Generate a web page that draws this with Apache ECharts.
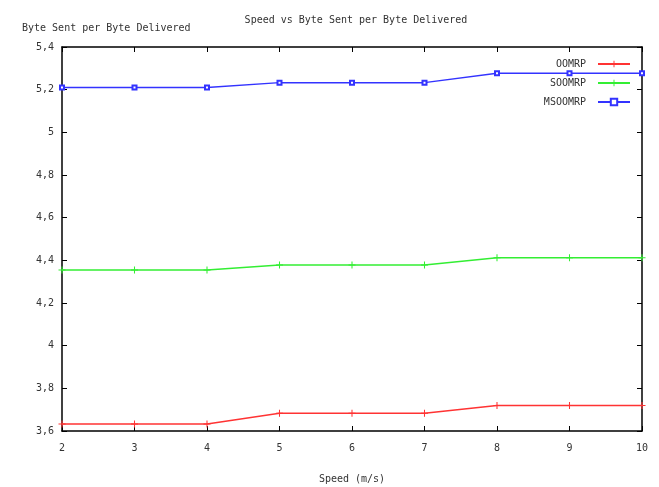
<!DOCTYPE html>
<html><head><meta charset="utf-8">
<script src="https://cdn.jsdelivr.net/npm/echarts@6/dist/echarts.min.js"></script>
<style>html,body{margin:0;padding:0;background:#fff}#c{width:659px;height:487px}</style>
</head><body><div id="c"></div>
<script>
const speeds = [2,3,4,5,6,7,8,9,10];
const oomrp = [3.633,3.633,3.633,3.683,3.683,3.683,3.72,3.72,3.72];
const soomrp = [4.355,4.355,4.355,4.378,4.378,4.378,4.412,4.412,4.412];
const msoomrp = [5.21,5.21,5.21,5.233,5.233,5.233,5.277,5.277,5.277];
const seriesNames = ['OOMRP','SOOMRP','MSOOMRP'];
const FONT = 'DejaVu Sans Mono';
const plus = 'path://M4,0h1.4v4h4v1.4h-4v4h-1.4v-4h-4v-1.4h4z';
const chart = echarts.init(document.getElementById('c'));
const fmt = v => String(+v.toFixed(1)).replace('.', ',');
const mk = (arr) => speeds.map((s,i)=>[s,arr[i]]);
chart.setOption({
  animation:false,
  textStyle:{fontFamily:FONT},
  title:{text:'Speed vs Byte Sent per Byte Delivered',left:351,textAlign:'center',top:10,
    textStyle:{fontFamily:FONT,fontSize:10,fontWeight:'normal',color:'#333'}},
  grid:{left:62,right:17,top:47,bottom:56,outerBoundsMode:'none',containLabel:false},
  legend:{orient:'vertical',right:23,top:54,align:'right',itemWidth:32,itemHeight:8,itemGap:9,
    data:seriesNames,textStyle:{fontFamily:FONT,fontSize:10,color:'#333',padding:[0,7,0,0]}},
  xAxis:[{type:'value',min:2,max:10,interval:1,name:'Speed (m/s)',nameLocation:'middle',nameGap:43,
    nameTextStyle:{fontFamily:FONT,fontSize:10,color:'#333'},
    axisLine:{lineStyle:{color:'#000',width:1.5}},
    axisTick:{inside:true,length:5,lineStyle:{color:'#000'}},
    axisLabel:{fontFamily:FONT,fontSize:10,color:'#333',margin:12},
    splitLine:{show:false}},
   {type:'value',position:'top',min:2,max:10,interval:1,
    axisLine:{show:true,lineStyle:{color:'#000',width:1.5}},
    axisTick:{inside:true,length:5,lineStyle:{color:'#000'}},
    axisLabel:{show:false},splitLine:{show:false}}],
  yAxis:[{type:'value',min:3.6,max:5.4,interval:0.2,name:'Byte Sent per Byte Delivered',
    nameLocation:'end',nameGap:14,nameTextStyle:{fontFamily:FONT,fontSize:10,color:'#333',align:'left',padding:[0,0,0,-40]},
    axisLine:{show:true,lineStyle:{color:'#000',width:1.5}},
    axisTick:{show:true,inside:true,length:5,lineStyle:{color:'#000'}},
    axisLabel:{fontFamily:FONT,fontSize:10,color:'#333',formatter:fmt,margin:8},
    splitLine:{show:false}},
   {type:'value',position:'right',min:3.6,max:5.4,interval:0.2,
    axisLine:{show:true,lineStyle:{color:'#000',width:1.5}},
    axisTick:{show:true,inside:true,length:5,lineStyle:{color:'#000'}},
    axisLabel:{show:false},splitLine:{show:false}}],
  series:[
    {name:seriesNames[0],type:'line',data:mk(oomrp),color:'#ff3333',symbol:plus,symbolSize:7,
      lineStyle:{width:1.5},itemStyle:{color:'#ff3333'}},
    {name:seriesNames[1],type:'line',data:mk(soomrp),color:'#33ee33',symbol:plus,symbolSize:7,
      lineStyle:{width:1.5},itemStyle:{color:'#33ee33'}},
    {name:seriesNames[2],type:'line',data:mk(msoomrp),color:'#3333ff',symbol:'emptyRect',symbolSize:4,
      lineStyle:{width:1.5},itemStyle:{color:'#3333ff',borderWidth:1.5}}
  ]
});
</script></body></html>
